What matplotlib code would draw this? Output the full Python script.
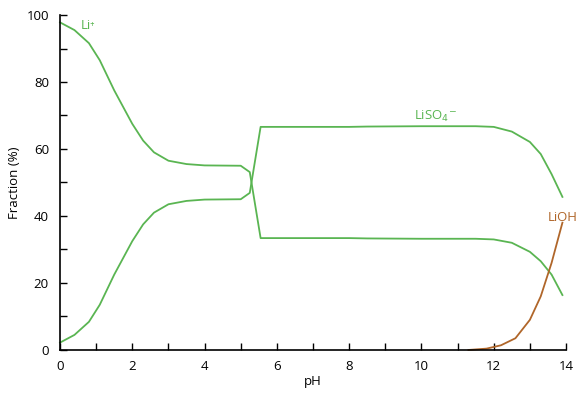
import matplotlib

matplotlib.use("Agg")
import matplotlib.pyplot as plt  # noqa: E402

# speciation of Li in sulfate solution vs pH (fraction, %)
ph_li = [0.0, 0.4, 0.8, 1.1, 1.5, 2.0, 2.3, 2.6, 3.0, 3.5, 4.0, 5.0, 5.25, 5.55,
         6.0, 8.0, 8.5, 10.0, 11.5, 12.0, 12.5, 13.0, 13.3, 13.6, 13.9]
li_plus = [97.8, 95.5, 91.6, 86.5, 77.5, 67.5, 62.5, 59.0, 56.5, 55.5, 55.1, 55.0, 53.1, 33.4,
           33.4, 33.4, 33.3, 33.2, 33.2, 33.0, 32.0, 29.3, 26.5, 22.5, 16.4]
liso4 = [2.2, 4.5, 8.4, 13.5, 22.5, 32.5, 37.5, 41.0, 43.5, 44.5, 44.9, 45.0, 46.9, 66.6,
         66.6, 66.6, 66.7, 66.8, 66.8, 66.6, 65.2, 62.1, 58.5, 52.5, 45.7]

ph_lioh = [11.3, 11.8, 12.2, 12.6, 13.0, 13.3, 13.6, 13.9]
lioh = [0.0, 0.4, 1.4, 3.5, 9.0, 16.0, 26.0, 38.0]

green = "#5ab552"
brown = "#b0662a"

plt.rcParams["font.family"] = ["Open Sans", "DejaVu Sans"]
plt.rcParams["font.size"] = 9.5

fig = plt.figure(figsize=(5.77, 3.95), dpi=100)
ax = fig.add_axes([0.104, 0.114, 0.877, 0.848])

ax.plot(ph_li, li_plus, color=green, lw=1.3, clip_on=False)
ax.plot(ph_li, liso4, color=green, lw=1.3, clip_on=False)
ax.plot(ph_lioh, lioh, color=brown, lw=1.3, clip_on=False)

ax.text(0.58, 97.0, "Li⁺", color=green, fontsize=9.5, ha="left", va="center")
ax.text(9.8, 69.8, "LiSO$_4$$^{-}$", color=green, fontsize=9.5, ha="left", va="center")
ax.text(13.5, 39.5, "LiOH", color=brown, fontsize=9.5, ha="left", va="center",
        clip_on=False)

ax.set_xlim(0, 14)
ax.set_ylim(0, 100)
ax.set_xticks(range(0, 15, 2))
ax.set_xticks(range(0, 15), minor=True)
ax.set_yticks(range(0, 101, 20))
ax.set_yticks(range(0, 101, 10), minor=True)
ax.tick_params(which="both", direction="in", length=5, width=1, colors="black")
ax.tick_params(axis="y", pad=8)
ax.tick_params(axis="x", pad=7)

for side in ("top", "right"):
    ax.spines[side].set_visible(False)
for side in ("left", "bottom"):
    ax.spines[side].set_linewidth(1.2)

ax.set_xlabel("pH", labelpad=2)
ax.set_ylabel("Fraction (%)", labelpad=4)

fig.savefig("out.png", dpi=100)
